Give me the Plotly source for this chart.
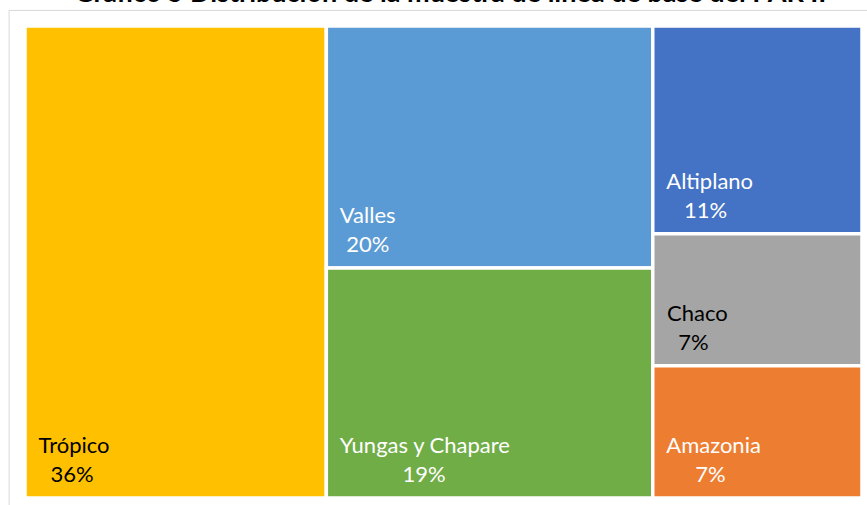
import plotly.graph_objects as go

labels = ["Trópico", "Valles", "Yungas y Chapare", "Altiplano", "Chaco", "Amazonia"]
values = [36, 20, 19, 11, 7, 7]
colors = ["#FFC000", "#5B9BD5", "#70AD47", "#4472C4", "#A5A5A5", "#ED7D31"]
text_colors = ["#000000", "#FFFFFF", "#FFFFFF", "#FFFFFF", "#000000", "#FFFFFF"]
title_text = "Gráfico 5 Distribución de la muestra de línea de base del PAR II"

NB = "\u00a0"
pct = [f"{v}%" for v in values]
# indent the percentage line to mimic centered Excel labels
indents = [2, 1, 11, 3, 2, 5]
texts = [f"{NB*2}{l}<br>{NB*2}{NB*i}{p}<span style='font-size:62px'>{NB}</span>"
         for l, p, i in zip(labels, pct, indents)]

fig = go.Figure(go.Treemap(
    labels=labels,
    parents=[""] * len(labels),
    values=values,
    text=texts,
    texttemplate="%{text}",
    textposition="bottom left",
    textfont=dict(family="Lato, Liberation Sans, sans-serif", size=22, color=text_colors),
    marker=dict(colors=colors, line=dict(color="white", width=3.5), pad=dict(t=0, l=0, r=0, b=0)),
    tiling=dict(squarifyratio=1, pad=0),
    pathbar=dict(visible=False),
    sort=True,
    hoverinfo="label+value",
))

fig.update_layout(
    width=867, height=505,
    margin=dict(l=25, r=5, t=26, b=7),
    paper_bgcolor="white",
    showlegend=False,
    shapes=[dict(type="rect", xref="paper", yref="paper", x0=-0.019, x1=1.2, y0=-0.2, y1=1.033,
                 line=dict(color="#D9D9D9", width=1), layer="below")],
    annotations=[dict(text=f"<b>{title_text}</b>", xref="paper", yref="paper", x=0.508, y=1,
                      xanchor="center", yanchor="bottom", yshift=16, showarrow=False,
                      font=dict(family="Lato, Liberation Sans, sans-serif", size=27, color="#000000"))],
)

fig.write_html("out.html", config={"displayModeBar": False},
               post_script="document.body.style.margin='0px';")
